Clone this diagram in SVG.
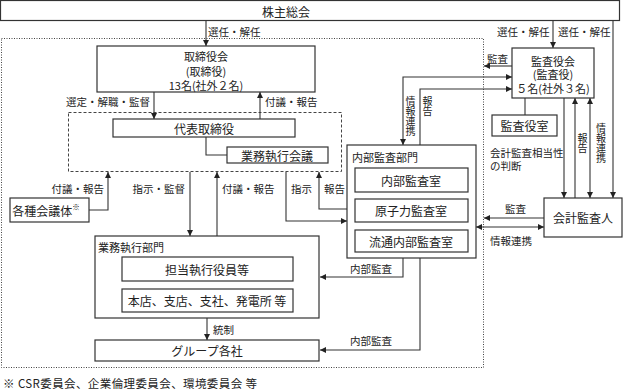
<svg xmlns="http://www.w3.org/2000/svg" width="624" height="392" viewBox="0 0 624 392">
<defs>
<marker id="arr" viewBox="0 0 8 8" refX="8" refY="4" markerWidth="6" markerHeight="6" markerUnits="userSpaceOnUse" orient="auto-start-reverse">
<path d="M0,0 L8,4 L0,8 z" fill="#222"/>
</marker>
<style>
text{font-family:"Noto Sans CJK JP","Liberation Serif",serif;fill:#222;dominant-baseline:central}
.box{fill:#fff;stroke:#333;stroke-width:1.2}
.t{font-size:12px;text-anchor:middle}
.t2{font-size:11px;text-anchor:middle}
.lb{font-size:10.5px}
.v{font-size:10px;writing-mode:vertical-rl;text-orientation:upright}
.ttl{font-size:11px}
.c{fill:none;stroke:#333;stroke-width:1.1}
.e{marker-end:url(#arr)}
.b{marker-start:url(#arr);marker-end:url(#arr)}
.dot{fill:none;stroke:#444;stroke-width:1;stroke-dasharray:1,1.5}
.dash{fill:none;stroke:#444;stroke-width:1;stroke-dasharray:3,2}
</style>
</defs>
<rect width="624" height="392" fill="#fff"/>
<rect class="dot" x="1.5" y="38.5" width="482" height="329"/>
<rect class="dash" x="68.5" y="112.5" width="273" height="59"/>

<g id="connectors">
<path class="c e" d="M206,20 V46"/>
<path class="c e" d="M154,92 V119"/>
<path class="c e" d="M260,119 V92"/>
<path class="c" d="M206,137 V155 H227"/>
<path class="c e" d="M89,210 H108 V172"/>
<path class="c e" d="M190,172 V236"/>
<path class="c e" d="M217,236 V172"/>
<path class="c e" d="M286,172 V221 H347"/>
<path class="c e" d="M347,209 H319 V172"/>
<path class="c e" d="M403,258 V277 H320"/>
<path class="c e" d="M420,258 V350 H320"/>
<path class="c e" d="M207,318 V340"/>
<path class="c b" d="M403,145 V77 H512"/>
<path class="c e" d="M420,145 V89 H512"/>
<path class="c e" d="M512,66 H484"/>
<path class="c" d="M525,98 V115"/>
<path class="c e" d="M553,20 V48"/>
<path class="c e" d="M613,20 V198"/>
<path class="c e" d="M564,98 V198"/>
<path class="c e" d="M575,198 V98"/>
<path class="c b" d="M590,98 V198"/>
<path class="c e" d="M544,218 H484"/>
<path class="c b" d="M476,227 H544"/>
<text class="lb" x="208" y="31">選任・解任</text>
<text class="lb" x="497" y="31">選任・解任</text>
<text class="lb" x="558" y="31">選任・解任</text>
<text class="lb" x="150" y="101" text-anchor="end">選定・解職・監督</text>
<text class="lb" x="265" y="101">付議・報告</text>
<text class="lb" x="104" y="188" text-anchor="end">付議・報告</text>
<text class="lb" x="185" y="188" text-anchor="end">指示・監督</text>
<text class="lb" x="222" y="188">付議・報告</text>
<text class="lb" x="291" y="188">指示</text>
<text class="lb" x="324" y="188">報告</text>
<text class="lb" x="487" y="58">監査</text>
<text class="lb" x="505" y="208">監査</text>
<text class="lb" x="490" y="240">情報連携</text>
<text class="lb" x="350" y="268">内部監査</text>
<text class="lb" x="350" y="340">内部監査</text>
<text class="lb" x="213" y="329">統制</text>
<text class="v" x="410.5" y="96">情報連携</text>
<text class="v" x="427.5" y="96">報告</text>
<text class="v" x="582.5" y="133">報告</text>
<text class="v" x="601" y="123">情報連携</text>
<text class="lb" x="490" y="152">会計監査相当性</text>
<text class="lb" x="490" y="165">の判断</text>
</g>

<g id="shareholders">
<rect class="box" x="0.5" y="0.5" width="619" height="20"/>
<text class="t" x="286" y="11">株主総会</text>
</g>
<g id="board">
<rect class="box" x="97" y="46" width="218" height="46"/>
<text class="t2" x="206" y="56">取締役会</text>
<text class="t2" x="206" y="70.5">(取締役)</text>
<text class="t2" x="206" y="84.5">13名(社外２名)</text>
</g>
<g id="representative">
<rect class="box" x="113" y="119" width="182" height="18"/>
<text class="t" x="204" y="128">代表取締役</text>
</g>
<g id="exec-meeting">
<rect class="box" x="227" y="147" width="101" height="16"/>
<text class="t" x="277" y="155">業務執行会議</text>
</g>
<g id="committees">
<rect class="box" x="10" y="198" width="79" height="24"/>
<text class="t" x="46" y="210">各種会議体<tspan style="font-size:7.5px;fill:#111" dy="-4">※</tspan></text>
</g>
<g id="exec-division">
<rect class="box" x="95" y="236" width="224" height="82"/>
<text class="ttl" x="98" y="247">業務執行部門</text>
<rect class="box" x="122" y="257" width="171" height="24"/>
<text class="t" x="207" y="269">担当執行役員等</text>
<rect class="box" x="122" y="289" width="171" height="23"/>
<text class="t" x="207" y="300.5">本店、支店、支社、発電所 等</text>
</g>
<g id="group-companies">
<rect class="box" x="95" y="340" width="224" height="21"/>
<text class="t" x="207" y="350.5">グループ各社</text>
</g>
<g id="internal-audit">
<rect class="box" x="347" y="145" width="129" height="113"/>
<text class="ttl" x="352" y="157">内部監査部門</text>
<rect class="box" x="355" y="168" width="113" height="24"/>
<text class="t" x="411" y="180">内部監査室</text>
<rect class="box" x="355" y="199" width="113" height="23"/>
<text class="t" x="411" y="210.5">原子力監査室</text>
<rect class="box" x="355" y="230" width="113" height="22"/>
<text class="t" x="411" y="241">流通内部監査室</text>
</g>
<g id="auditors-board">
<rect class="box" x="512" y="48" width="82" height="50"/>
<text class="t2" x="553" y="60.5">監査役会</text>
<text class="t2" x="553" y="74">(監査役)</text>
<text class="t2" x="553" y="88">５名(社外３名)</text>
</g>
<g id="auditors-office">
<rect class="box" x="492" y="115" width="65" height="21"/>
<text class="t" x="524.5" y="125.5">監査役室</text>
</g>
<g id="accounting-auditor">
<rect class="box" x="544" y="198" width="78" height="39"/>
<text class="t" x="583" y="217.5">会計監査人</text>
</g>
<text style="font-size:11.5px;letter-spacing:0.4px" x="3" y="383">※ CSR委員会、企業倫理委員会、環境委員会 等</text>
</svg>
